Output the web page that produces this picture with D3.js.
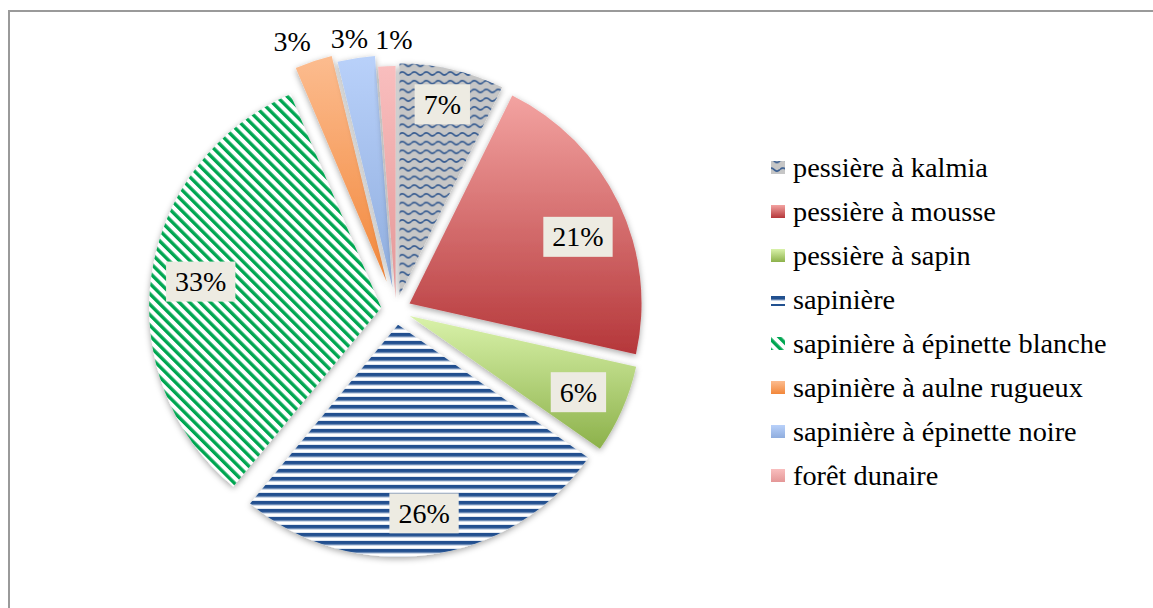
<!DOCTYPE html>
<html><head><meta charset="utf-8">
<script src="https://cdn.jsdelivr.net/npm/d3@7"></script>
<style>html,body{margin:0;padding:0;background:#fff}svg{display:block}</style>
</head><body>
<svg id="chart" width="1153" height="608"></svg>
<script>
// ---- data ----
const categories = ["pessière à kalmia","pessière à mousse","pessière à sapin","sapinière","sapinière à épinette blanche","sapinière à aulne rugueux","sapinière à épinette noire","forêt dunaire"];
const values = [7.3, 21.2, 6.2, 26.3, 32.6, 2.6, 2.6, 1.2];
const percentLabels = ["7%","21%","6%","26%","33%","3%","3%","1%"];

// ---- style ----
const fills = ["url(#pWave)","url(#gRed)","url(#gGreen)","url(#pHStripe)","url(#pDiag)","url(#gOrange)","url(#gBlue)","url(#gPink)"];
const explode = [15,15,15,15,15,30,23,12];
const labelInside = [true,true,true,true,true,false,false,false];
const labelNudge = [[-1,-3],[6,11],[-2,1],[0,-3],[0,0],[-14,2],[-3,3],[8,-4]];
const FONT = "'Liberation Serif','Times New Roman',serif";

const svg = d3.select("#chart");
const defs = svg.append("defs");

function grad(id, c1, c2){
  const g = defs.append("linearGradient").attr("id", id).attr("x1",0).attr("y1",0).attr("x2",0).attr("y2",1);
  g.append("stop").attr("offset","0%").attr("stop-color",c1);
  g.append("stop").attr("offset","100%").attr("stop-color",c2);
}
grad("gRed","#f3a3a1","#b5373a");
grad("gGreen","#d9f2aa","#8cb14a");
grad("gOrange","#fcbc8f","#f2873a");
grad("gBlue","#b9d1fa","#8fadde");
grad("gPink","#f9bebe","#e49797");

// wave pattern
const pw = defs.append("pattern").attr("id","pWave").attr("patternUnits","userSpaceOnUse").attr("width",12).attr("height",8.7);
pw.append("rect").attr("width",12).attr("height",8.7).attr("fill","#c6c6c6");
pw.append("path").attr("d","M0,4.3 Q3,1.3 6,4.3 Q9,7.3 12,4.3").attr("fill","none").attr("stroke","#33598f").attr("stroke-width",1.6);
// horizontal stripes
const ph = defs.append("pattern").attr("id","pHStripe").attr("patternUnits","userSpaceOnUse").attr("width",8).attr("height",8);
ph.append("rect").attr("width",8).attr("height",8).attr("fill","#ffffff");
ph.append("rect").attr("y",0).attr("width",8).attr("height",3.8).attr("fill","#21508f");
ph.append("rect").attr("y",3.8).attr("width",8).attr("height",0.8).attr("fill","#9fb5d3");
// diagonal stripes
const pd = defs.append("pattern").attr("id","pDiag").attr("patternUnits","userSpaceOnUse").attr("width",7.4).attr("height",10).attr("patternTransform","rotate(-45)");
pd.append("rect").attr("width",7.4).attr("height",10).attr("fill","#ffffff");
pd.append("rect").attr("x",0).attr("width",3.4).attr("height",10).attr("fill","#00a651");

// shadow
const f = defs.append("filter").attr("id","shadow").attr("x","-20%").attr("y","-20%").attr("width","140%").attr("height","140%");
f.append("feDropShadow").attr("dx",0).attr("dy",2).attr("stdDeviation",3).attr("flood-color","#000").attr("flood-opacity",0.35);

// frame
svg.append("rect").attr("x",9).attr("y",11).attr("width",1170).attr("height",640)
  .attr("fill","none").attr("stroke","#9a9a9a").attr("stroke-width",2);

// ---- pie ----
const cx = 396, cy = 310, R = 232;
const pie = d3.pie().sort(null).value(d => d).startAngle(0).endAngle(2*Math.PI);
const arcs = pie(values);
const arcGen = d3.arc().innerRadius(0).outerRadius(R);

const g = svg.append("g").attr("transform", `translate(${cx},${cy})`);
arcs.forEach((a,i) => {
  const m = (a.startAngle + a.endAngle)/2;
  a.mid = m;
  a.ox = Math.sin(m)*explode[i];
  a.oy = -Math.cos(m)*explode[i];
});
g.selectAll("path.slice").data(arcs).join("path")
  .attr("class","slice")
  .attr("transform", d => `translate(${d.ox},${d.oy})`)
  .attr("d", arcGen)
  .attr("fill", (d,i) => fills[i])
  .attr("filter","url(#shadow)");

// labels
const LFS = 28;
const lab = g.append("g").attr("font-family",FONT).attr("font-size",LFS).attr("fill","#000");
arcs.forEach((a,i) => {
  const t = lab.append("text").attr("text-anchor","middle").text(percentLabels[i]);
  const w = t.node().getComputedTextLength();
  const dx = Math.sin(a.mid), dy = -Math.cos(a.mid);
  if (labelInside[i]) {
    const bw = w + 18, bh = 40;
    let lo = 0, hi = R;
    for (let k=0;k<40;k++){
      const tt = (lo+hi)/2;
      const bx = dx*tt, by = dy*tt;
      let maxd = 0;
      [[-1,-1],[1,-1],[1,1],[-1,1]].forEach(([sx,sy])=>{
        const d2 = Math.hypot(bx+sx*bw/2, by+sy*bh/2);
        if (d2>maxd) maxd=d2;
      });
      if (maxd < R-12) lo = tt; else hi = tt;
    }
    const bx = a.ox + dx*lo + labelNudge[i][0], by = a.oy + dy*lo + labelNudge[i][1];
    lab.insert("rect","text").attr("x",bx-bw/2).attr("y",by-bh/2).attr("width",bw).attr("height",bh).attr("fill","#edebe2");
    t.attr("x",bx).attr("y",by+9.5);
  } else {
    const r = R + 23;
    const bx = a.ox + dx*r + labelNudge[i][0], by = a.oy + dy*r + labelNudge[i][1];
    t.attr("x",bx).attr("y",by+9.5);
  }
});

// ---- legend ----
const leg = svg.append("g").attr("font-family",FONT).attr("font-size",28.3);
const rowY = d3.scalePoint().domain(categories).range([0, 44*7]);
categories.forEach((c,i) => {
  const y = 161 + rowY(c);
  leg.append("rect").attr("x",771).attr("y",y).attr("width",14).attr("height",13).attr("fill",fills[i]);
  leg.append("text").attr("x",793).attr("y",y+16).attr("fill","#000").text(c);
});
</script>
</body></html>
